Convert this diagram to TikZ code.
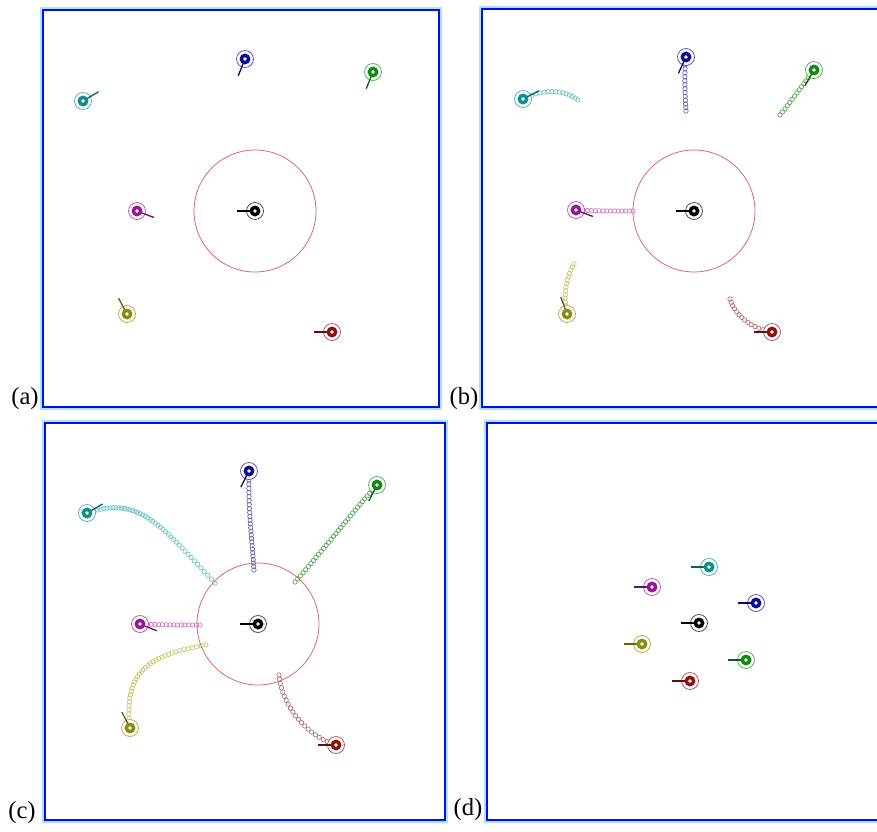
\documentclass[tikz,border=0pt]{standalone}
\usepackage{fontspec}
\setmainfont{Liberation Serif}
\usetikzlibrary{positioning, backgrounds}
\definecolor{framebl}{HTML}{0A0AE6}
\definecolor{frameglow}{HTML}{A8E4F8}
\definecolor{goalred}{HTML}{D46A6A}
\definecolor{botk}{HTML}{000000}
\definecolor{botu}{HTML}{10108F}
\definecolor{botg}{HTML}{138A13}
\definecolor{bott}{HTML}{128E8E}
\definecolor{botm}{HTML}{951895}
\definecolor{boto}{HTML}{8C8C12}
\definecolor{botr}{HTML}{8E1212}
\definecolor{trailu}{HTML}{6A6AB4}
\definecolor{trailg}{HTML}{58A858}
\definecolor{trailt}{HTML}{6EC4C4}
\definecolor{trailm}{HTML}{C77FC7}
\definecolor{trailo}{HTML}{C8C86A}
\definecolor{trailr}{HTML}{B07474}
\tikzset{
  panel/.style={draw=framebl, line width=1.6pt},
  panelglow/.style={draw=frameglow, line width=1.4pt},
  panellabel/.style={font=\fontsize{14}{16}\selectfont, inner sep=0pt},
  goalzone/.style={circle, draw=goalred, line width=0.45pt, minimum size=2.44cm, inner sep=0pt},
  halo/.style={circle, draw=#1!70, fill=white, line width=0.45pt,
               minimum size=0.34cm, inner sep=0pt},
  robot/.style={circle, fill=#1, inner sep=0pt, minimum size=0.22cm,
                path picture={\fill[white] (path picture bounding box.center) circle (1.05pt);}},
  heading/.style={draw=#1!70!black, line width=0.75pt},
  bead/.style={draw=#1, line width=0.4pt},
}
\begin{document}
\begin{tikzpicture}[x=0.02cm, y=-0.02cm]
  \useasboundingbox (0,0) rectangle (877,832);

  % --- Frames ---
  \draw[panelglow] (41,8) rectangle (441,409);
  \draw[panel] (43,10) rectangle (439,407);
  \draw[panelglow] (480,7) rectangle (884,409);
  \draw[panel] (482,9) rectangle (882,407);
  \draw[panelglow] (43,421) rectangle (447,822);
  \draw[panel] (45,423) rectangle (445,820);
  \draw[panelglow] (485,421) rectangle (884,822);
  \draw[panel] (487,423) rectangle (882,820);

  % --- Labels ---
  \node[panellabel] (la) at (25,399) {(a)};
  \node[panellabel] (lb) at (464,399) {(b)};
  \node[panellabel] (lc) at (22,813) {(c)};
  \node[panellabel] (ld) at (468,810) {(d)};

  % --- (a) start ---
  \foreach \n/\px/\py/\h in {k/255/211/180, u/245/59/112, g/373/72/112, t/83/101/329,
                             m/137/211/21, o/127/314/242, r/332/332/180} {
    \node[halo=bot\n] (a-\n) at (\px,\py) {};
    \draw[heading=bot\n] (a-\n.center) -- ++(\h:18);
    \node[robot=bot\n] (a-\n-b) at (a-\n) {};
  }
  \node[goalzone] (za) at (a-k) {};

  % --- (b) moving out ---
  \foreach \n/\px/\py/\h in {k/694/211/180, u/686/57/115, g/814/70/120, t/523/99/333,
                             m/576/210/21, o/567/314/250, r/772/332/180} {
    \node[halo=bot\n] (b-\n) at (\px,\py) {};
    \draw[heading=bot\n] (b-\n.center) -- ++(\h:18);
    \node[robot=bot\n] (b-\n-b) at (b-\n) {};
  }
  \node[goalzone] (zb) at (b-k) {};

  % --- (c) reaching the circle ---
  \foreach \n/\px/\py/\h in {k/258/624/180, u/249/471/117, g/377/485/117, t/87/513/330,
                             m/140/624/22, o/130/728/243, r/336/745/180} {
    \node[halo=bot\n] (c-\n) at (\px,\py) {};
    \draw[heading=bot\n] (c-\n.center) -- ++(\h:18);
    \node[robot=bot\n] (c-\n-b) at (c-\n) {};
  }
  \node[goalzone] (zc) at (c-k) {};

  % --- (d) gathered ---
  \foreach \n/\px/\py in {t/709/567, m/652/587, u/756/603, k/699/623,
                          o/642/644, g/746/660, r/690/681} {
    \node[halo=bot\n] (d-\n) at (\px,\py) {};
    \draw[heading=bot\n] (d-\n.center) -- ++(180:18);
    \node[robot=bot\n] (d-\n-b) at (d-\n) {};
  }

  % --- Trails ---
  \begin{scope}[on background layer]
    \foreach \col/\s/\ax/\ay/\bx/\by/\ex/\ey/\k in {
        trailu/b-u/684/75/685/95/686/111/14,
        trailg/b-g/805/82/792/100/780/115/15,
        trailt/b-t/545/88/565/90/578/100/15,
        trailm/b-m/595/211/615/211/633/211/15,
        trailo/b-o/563/295/566/278/574/264/14,
        trailr/b-r/750/328/735/315/730/299/14,
        trailu/c-u/248/510/252/540/254/570/26,
        trailg/c-g/350/515/325/548/295/582/33,
        trailt/c-t/140/495/160/525/215/583/44,
        trailm/c-m/160/625/180/625/200/625/16,
        trailo/c-o/123/670/150/655/206/645/35,
        trailr/c-r/305/735/282/705/279/675/21} {
      \foreach \i [evaluate=\i as \t using \i/\k] in {0,...,\k} {
        \path (\s.center) .. controls (\ax,\ay) and (\bx,\by) .. (\ex,\ey)
          coordinate[pos=\t] (bk);
        \draw[bead=\col] (bk) circle (1.25pt);
      }
    }
  \end{scope}
\end{tikzpicture}
\end{document}
